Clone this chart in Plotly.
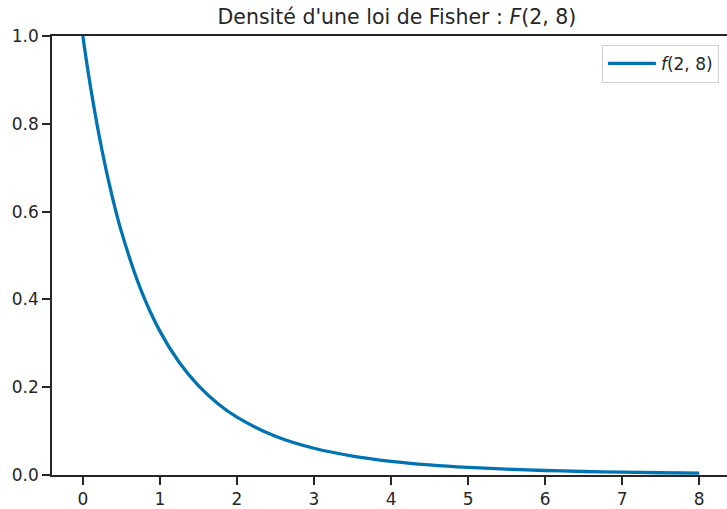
import plotly.graph_objects as go

x_vals = [0, 0.1, 0.25, 0.375, 0.5, 0.75, 1, 1.25, 1.5, 1.75, 2, 2.5, 3, 3.5, 4, 4.5, 5, 5.5, 6, 6.5, 7, 7.5, 8]
f_vals = [1.0, 0.884, 0.7385, 0.639, 0.5549, 0.4235, 0.3277, 0.2567, 0.2035, 0.1629, 0.1317, 0.0883, 0.0609,
          0.0432, 0.03125, 0.0231, 0.01734, 0.01323, 0.01024, 0.00802, 0.00636, 0.00509, 0.00412]
x_ticks = [0, 1, 2, 3, 4, 5, 6, 7, 8]
y_ticks = [0.0, 0.2, 0.4, 0.6, 0.8, 1.0]

dark = "#262626"
fig = go.Figure()
fig.add_trace(go.Scatter(x=x_vals, y=f_vals, mode="lines", name="<i>f</i>(2, 8)",
                         line=dict(color="#0173b2", width=3.3, shape="spline")))

fig.update_layout(
    width=727, height=509,
    margin=dict(l=52, r=0, t=36, b=34),
    paper_bgcolor="white", plot_bgcolor="white",
    font=dict(family="DejaVu Sans", size=17, color=dark),
    title=dict(text="Densité d'une loi de Fisher : <i>F</i>(2, 8)", x=0.546, xanchor="center",
               y=1 - 17 / 509, yanchor="middle", font=dict(size=20.5, color=dark)),
    showlegend=True,
    legend=dict(x=0.988, xanchor="right", y=0.98, yanchor="top", itemwidth=48,
                bordercolor="#d0d0d0", borderwidth=1, bgcolor="white",
                font=dict(size=17, color=dark)),
)
fig.update_xaxes(range=[-0.4, 8.36], tickvals=x_ticks, ticks="outside", ticklen=8, tickwidth=1.5,
                 tickcolor=dark, showline=True, linecolor=dark, linewidth=1.6, mirror=True,
                 showgrid=False, zeroline=False)
fig.update_yaxes(range=[0, 1], tickvals=y_ticks, tickformat=".1f", ticks="outside", ticklen=8,
                 tickwidth=1.5, tickcolor=dark, showline=True, linecolor=dark, linewidth=1.6,
                 showgrid=False, zeroline=False)

fig.write_html("out.html")
